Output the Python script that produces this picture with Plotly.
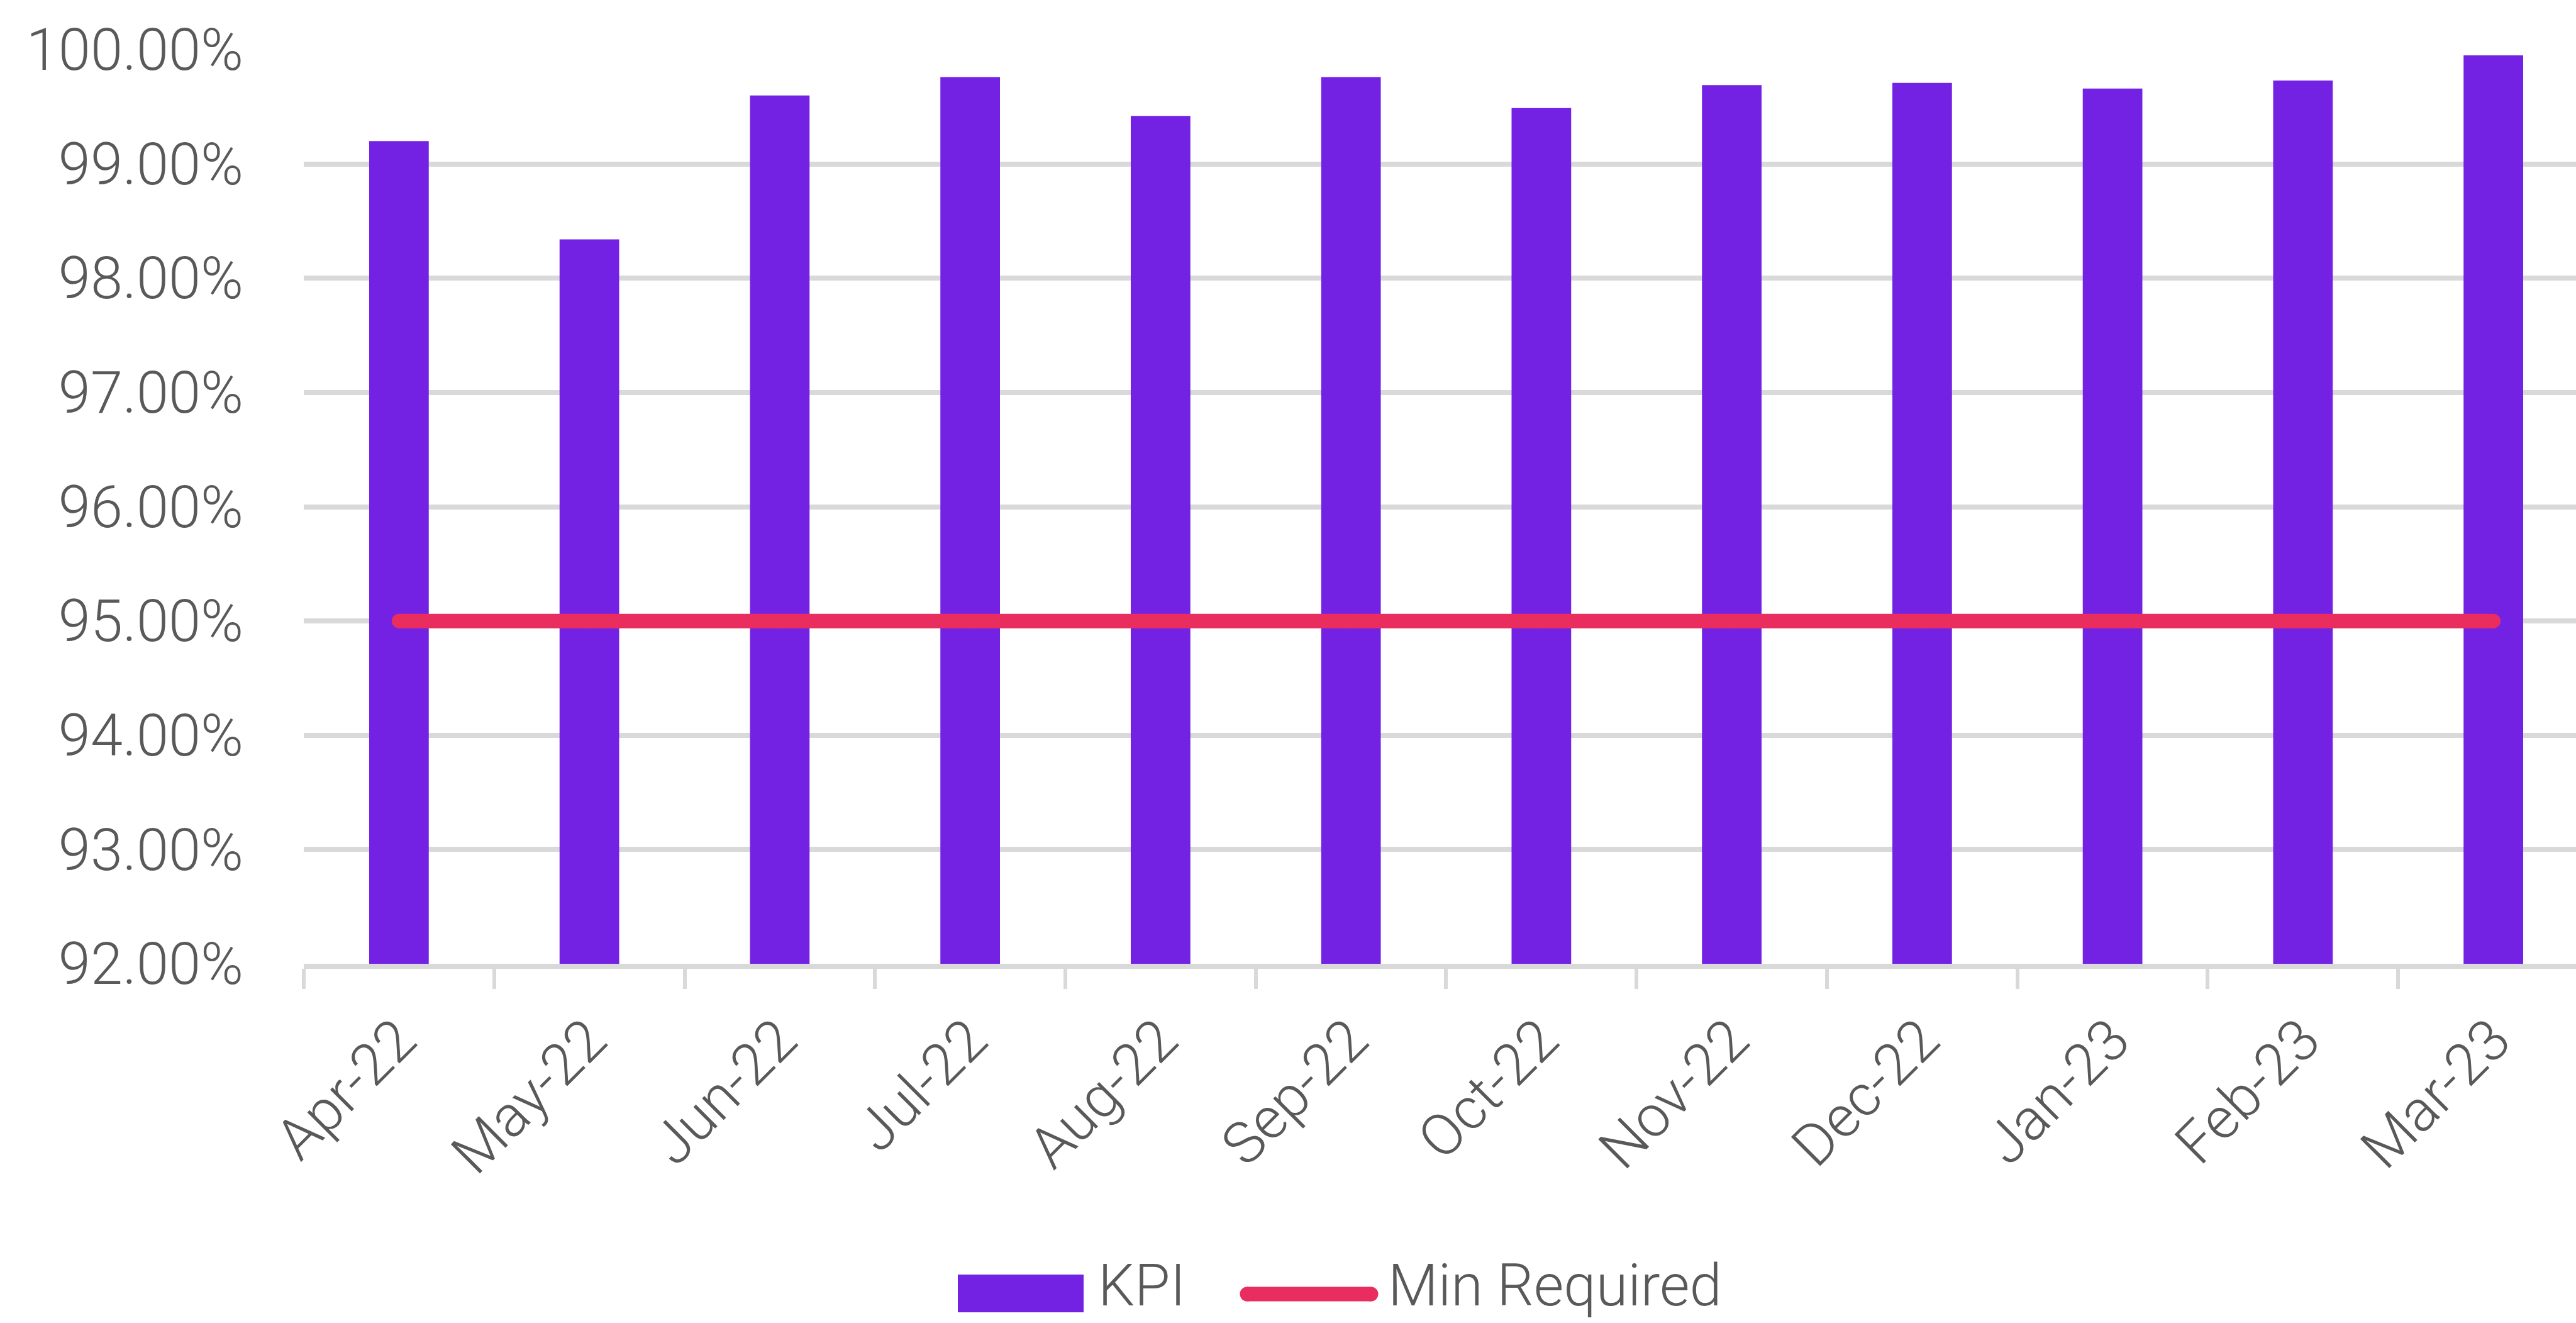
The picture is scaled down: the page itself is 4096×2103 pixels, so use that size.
import plotly.graph_objects as go

months = ["Apr-22", "May-22", "Jun-22", "Jul-22", "Aug-22", "Sep-22",
          "Oct-22", "Nov-22", "Dec-22", "Jan-23", "Feb-23", "Mar-23"]
kpi = [0.9920, 0.9834, 0.9960, 0.9976, 0.9942, 0.9976,
       0.9949, 0.9969, 0.9971, 0.9966, 0.9973, 0.9995]
min_required = [0.95, 0.95, 0.95, 0.95, 0.95, 0.95,
                0.95, 0.95, 0.95, 0.95, 0.95, 0.95]
y_ticks = [0.92, 0.93, 0.94, 0.95, 0.96, 0.97, 0.98, 0.99, 1.00]

W, H = 4096, 2103
PL, PR, PT, PB = 483, 4096, 79, 1532   # plot area in pixels

PURPLE = "#7322E4"
RED = "#E92D5F"
GRID = "#D9D9D9"
TXT = "#595959"
FONT = "Roboto, Liberation Sans, Arial, sans-serif"
FS = 92
FW = 300


def px(x):
    return (x - PL) / (PR - PL)


def py(y):
    return (PB - y) / (PB - PT)


tf = dict(size=FS, color=TXT, family=FONT, weight=FW)

fig = go.Figure()
fig.add_trace(go.Bar(x=months, y=kpi, name="KPI", marker=dict(color=PURPLE, line=dict(width=0))))
fig.add_trace(go.Scatter(x=months, y=min_required, name="Min Required", mode="lines+markers",
                         line=dict(color=RED, width=23),
                         marker=dict(color=RED, size=23, line=dict(width=0))))

shapes = [
    dict(type="rect", xref="paper", yref="paper", x0=px(1523), x1=px(1723), y0=py(2086), y1=py(2026),
         fillcolor=PURPLE, line=dict(width=0)),
    dict(type="line", xref="paper", yref="paper", x0=px(1983), x1=px(2180), y0=py(2057), y1=py(2057),
         line=dict(color=RED, width=23)),
    dict(type="circle", xref="paper", yref="paper", x0=px(1971.5), x1=px(1994.5), y0=py(2068.5), y1=py(2045.5),
         fillcolor=RED, line=dict(width=0)),
    dict(type="circle", xref="paper", yref="paper", x0=px(2168.5), x1=px(2191.5), y0=py(2068.5), y1=py(2045.5),
         fillcolor=RED, line=dict(width=0)),
]
annotations = [
    dict(text="KPI", xref="paper", yref="paper", x=px(1744), y=py(2044), xanchor="left", yanchor="middle",
         showarrow=False, font=tf),
    dict(text="Min Required", xref="paper", yref="paper", x=px(2205), y=py(2044), xanchor="left", yanchor="middle",
         showarrow=False, font=tf),
]

fig.update_layout(
    width=W, height=H,
    margin=dict(l=PL, r=W - PR, t=PT, b=H - PB, pad=0),
    paper_bgcolor="white", plot_bgcolor="white",
    showlegend=False,
    bargap=0.687,
    font=tf,
    shapes=shapes,
    annotations=annotations,
)
fig.update_xaxes(
    type="category",
    range=[-0.5, 11.434],
    showline=True, linecolor=GRID, linewidth=7.5,
    ticks="outside", tickson="boundaries", ticklen=32, tickwidth=6, tickcolor=GRID,
    tickangle=-45, tickfont=tf,
    ticklabelstandoff=22,
    showgrid=False,
)
fig.update_yaxes(
    range=[0.92, 1.0],
    tickvals=y_ticks, tickformat=".2%",
    showgrid=True, gridcolor=GRID, gridwidth=7.5,
    zeroline=False, showline=False, ticks="",
    ticklabelstandoff=95,
    tickfont=tf,
)

fig.write_html("out.html")
